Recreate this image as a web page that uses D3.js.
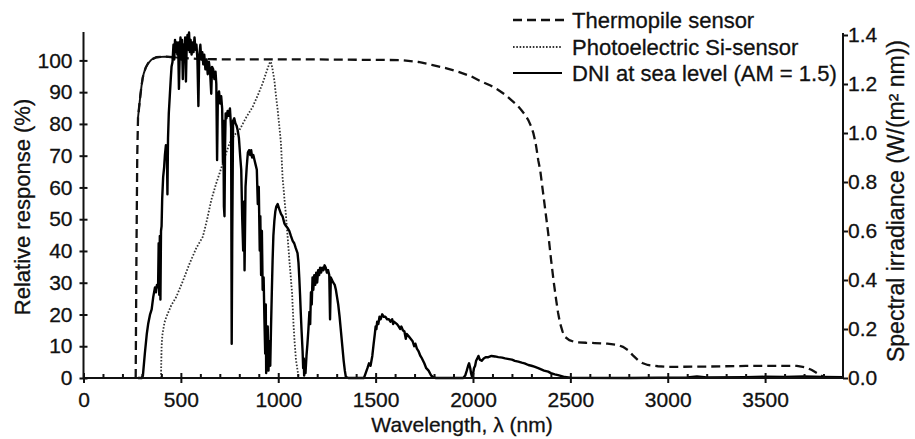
<!DOCTYPE html>
<html><head><meta charset="utf-8">
<script src="https://cdn.jsdelivr.net/npm/d3@7"></script>
<style>
html,body{margin:0;padding:0;background:#fff;}
svg text{font-family:"Liberation Sans",Arial,Helvetica,sans-serif;fill:#111;stroke:#111;stroke-width:0.3px;}
</style></head>
<body><svg id="c" width="915" height="439"></svg>
<script>
// ---- data ----
const xMajorTicks = [0,500,1000,1500,2000,2500,3000,3500];
const xMinorTicks = [100,200,300,400,600,700,800,900,1100,1200,1300,1400,1600,1700,1800,1900,2100,2200,2300,2400,2600,2700,2800,2900,3100,3200,3300,3400,3600,3700,3800];
const leftTicks = [0,10,20,30,40,50,60,70,80,90,100];
const rightTicks = [0,0.2,0.4,0.6,0.8,1.0,1.2,1.4];
const legendLabels = ["Thermopile sensor","Photoelectric Si-sensor","DNI at sea level (AM = 1.5)"];

// Thermopile sensor relative response: [wavelength nm, %]
const thermopile = [[268,0],[272,40],[276,70],[280,82],[286,85.5],[292,89],[298,92],[304,94.5],[310,96],[320,97.8],[332,99.1],[350,100.3],[375,101],[420,101.2],[460,101],[500,100.8],[600,100.4],[800,100.3],[1200,100.3],[1634,100.1],[1720,99.5],[1788,98.6],[1860,97.6],[1926,96.4],[1990,95],[2044,93.3],[2090,92.1],[2130,90.7],[2165,89.2],[2197,87.5],[2225,86],[2248,84.4],[2268,82.8],[2284,81.2],[2298,79.3],[2310,77.1],[2320,74.5],[2325,72.7],[2335,68.6],[2345,65.5],[2360,58.3],[2373,52],[2386,45.7],[2401,37.2],[2414,30.5],[2427,24.6],[2437,20.5],[2447,17.3],[2460,14.6],[2473,12.9],[2495,11.9],[2524,11.3],[2580,11.1],[2626,11.0],[2690,10.8],[2744,10.4],[2770,9.8],[2795,8.8],[2820,7.2],[2846,5.7],[2870,4.7],[2897,4.1],[2950,3.7],[2999,3.5],[3200,3.6],[3400,3.8],[3561,3.8],[3663,3.8],[3710,3.3],[3740,2.5],[3770,1.4],[3800,0.3],[3820,0]];

// Photoelectric Si-sensor relative response: [wavelength nm, %]
const siSensor = [[398,0],[399,4],[401,9.9],[405,13.5],[409,15.1],[416,17.5],[426,19.3],[450,22.8],[477,25.6],[510,30.5],[545,36.1],[580,41],[613,44.5],[635,50],[656,56],[680,61],[699,64.5],[725,69.5],[750,73.9],[775,76.5],[801,78.1],[835,82],[869,85.4],[895,89],[920,92.8],[940,96.5],[955,99.1],[962,99.6],[970,97.5],[980,93.8],[990,88],[997,84.4],[1006,79],[1014,73.9],[1022,63.4],[1031,57],[1040,50.8],[1050,43],[1057,37.2],[1064,32],[1071,26.7],[1079,16.2],[1085,10.5],[1091,5.7],[1099,2.5],[1105,0]];

// DNI at sea level (AM 1.5) spectral irradiance: [wavelength nm, W/(m2 nm)]
const dni = [[280,0],[300,0],[305,0.01],[315,0.1],[325,0.18],[332,0.22],[342,0.26],[350,0.28],[358,0.33],[367,0.37],[372,0.35],[377,0.38],[383,0.37],[386,0.55],[389,0.34],[392,0.58],[395,0.32],[398,0.6],[401,0.62],[404,0.73],[409,0.82],[414,0.86],[418,0.91],[423,0.95],[428,0.94],[431,0.75],[434,0.98],[438,1.08],[443,1.15],[448,1.22],[452,1.27],[457,1.29],[462,1.36],[466,1.30],[470,1.38],[474,1.33],[478,1.37],[482,1.32],[486,1.37],[490,1.18],[494,1.32],[498,1.39],[502,1.30],[506,1.38],[510,1.22],[514,1.36],[518,1.31],[522,1.39],[526,1.21],[530,1.36],[534,1.40],[538,1.34],[542,1.41],[546,1.33],[550,1.38],[555,1.32],[560,1.37],[565,1.33],[570,1.39],[575,1.34],[580,1.36],[585,1.30],[590,1.11],[594,1.31],[600,1.36],[605,1.30],[610,1.33],[615,1.28],[620,1.32],[626,1.26],[632,1.30],[638,1.24],[644,1.29],[650,1.25],[656,1.16],[660,1.27],[666,1.26],[672,1.22],[678,1.25],[682,1.20],[686,0.89],[690,1.15],[696,1.17],[702,1.12],[707,1.15],[712,1.10],[716,0.88],[718,1.05],[721,0.70],[724,0.66],[727,0.95],[730,1.08],[734,1.06],[740,1.09],[746,1.07],[752,1.10],[758,1.02],[761,0.14],[764,0.60],[768,1.05],[774,1.06],[780,1.04],[786,1.03],[792,1.01],[798,0.98],[805,0.90],[810,0.85],[815,0.65],[820,0.52],[824,0.72],[827,0.44],[832,0.78],[838,0.86],[844,0.92],[850,0.93],[856,0.91],[861,0.93],[866,0.90],[872,0.91],[878,0.89],[884,0.87],[890,0.85],[895,0.71],[900,0.78],[905,0.52],[908,0.66],[912,0.42],[916,0.60],[920,0.36],[925,0.41],[929,0.24],[933,0.10],[936,0.30],[938,0.02],[942,0.18],[946,0.21],[950,0.03],[955,0.15],[959,0.05],[963,0.21],[967,0.35],[971,0.48],[975,0.58],[980,0.64],[985,0.68],[990,0.70],[997,0.71],[1005,0.69],[1014,0.67],[1022,0.66],[1032,0.63],[1040,0.62],[1050,0.61],[1057,0.60],[1065,0.58],[1074,0.56],[1082,0.55],[1090,0.53],[1099,0.51],[1104,0.47],[1108,0.41],[1112,0.34],[1116,0.26],[1120,0.19],[1125,0.11],[1128,0.04],[1131,0.08],[1133,0.01],[1137,0.05],[1140,0.02],[1145,0.09],[1150,0.14],[1155,0.20],[1160,0.27],[1164,0.22],[1168,0.35],[1172,0.30],[1176,0.41],[1180,0.36],[1185,0.42],[1190,0.38],[1195,0.43],[1200,0.39],[1205,0.44],[1210,0.42],[1215,0.45],[1220,0.43],[1226,0.45],[1232,0.44],[1238,0.46],[1244,0.45],[1250,0.43],[1256,0.44],[1262,0.42],[1266,0.24],[1270,0.41],[1276,0.40],[1282,0.39],[1290,0.38],[1296,0.36],[1302,0.33],[1308,0.30],[1315,0.25],[1322,0.19],[1329,0.13],[1336,0.07],[1342,0.03],[1347,0.005],[1360,0],[1440,0],[1449,0.02],[1458,0.04],[1466,0.06],[1474,0.05],[1483,0.09],[1490,0.14],[1496,0.18],[1500,0.21],[1504,0.20],[1508,0.23],[1514,0.22],[1520,0.25],[1526,0.24],[1534,0.26],[1542,0.25],[1550,0.25],[1559,0.24],[1568,0.24],[1576,0.23],[1585,0.24],[1590,0.22],[1594,0.23],[1602,0.225],[1610,0.22],[1619,0.21],[1626,0.20],[1632,0.21],[1640,0.195],[1648,0.19],[1655,0.16],[1660,0.18],[1670,0.17],[1680,0.16],[1690,0.15],[1698,0.13],[1704,0.14],[1712,0.12],[1720,0.11],[1730,0.09],[1738,0.08],[1750,0.06],[1760,0.04],[1772,0.03],[1785,0.01],[1798,0.002],[1810,0],[1950,0],[1960,0.01],[1968,0.03],[1975,0.05],[1980,0.06],[1986,0.04],[1990,0.02],[1995,0.005],[1999,0.01],[2005,0.04],[2011,0.05],[2016,0.07],[2022,0.08],[2028,0.09],[2035,0.075],[2045,0.07],[2055,0.08],[2065,0.085],[2079,0.085],[2095,0.09],[2113,0.088],[2130,0.085],[2150,0.083],[2165,0.08],[2185,0.077],[2200,0.075],[2215,0.07],[2233,0.067],[2250,0.063],[2265,0.06],[2284,0.053],[2300,0.05],[2315,0.046],[2335,0.04],[2350,0.035],[2365,0.03],[2386,0.026],[2400,0.02],[2420,0.015],[2437,0.012],[2455,0.008],[2471,0.004],[2500,0.001],[2800,0],[3100,0.002],[3150,0.006],[3200,0.002],[3400,0.003],[3500,0.005],[3600,0.004],[3700,0.006],[3800,0.004],[3900,0.003]];

// ---- chart ----
const svg = d3.select("#c");
const x = d3.scaleLinear().domain([0,3900]).range([83.5,843]);
const yL = d3.scaleLinear().domain([0,108]).range([378,35]);
const yR = d3.scaleLinear().domain([0,1.4]).range([378,35]);
const FS = 21;

// curves
const lineL = d3.line().x(d=>x(d[0])).y(d=>yL(d[1]));
const lineR = d3.line().x(d=>x(d[0])).y(d=>yR(d[1]));

svg.append("path").datum(siSensor).attr("d",lineL)
  .attr("fill","none").attr("stroke","#333").attr("stroke-width",1.8).attr("stroke-dasharray","1.6,1.7");
svg.append("path").datum(thermopile).attr("d",lineL)
  .attr("fill","none").attr("stroke","#111").attr("stroke-width",2.3).attr("stroke-dasharray","9,5");
svg.append("path").datum(thermopile.filter(d=>d[0]>=280 && d[0]<=520)).attr("d",lineL)
  .attr("fill","none").attr("stroke","#111").attr("stroke-width",1.9);
svg.append("path").datum(dni).attr("d",lineR)
  .attr("fill","none").attr("stroke","#000").attr("stroke-width",2.4).attr("stroke-linejoin","round");

// axes
const gx = svg.append("g").attr("transform","translate(0,378)");
gx.call(d3.axisBottom(x).tickValues(xMinorTicks).tickSize(-4).tickFormat(""));
gx.select(".domain").remove();
const gx2 = svg.append("g").attr("transform","translate(0,378)")
  .call(d3.axisBottom(x).tickValues(xMajorTicks).tickSizeOuter(0).tickFormat(d3.format("d")));
gx2.selectAll(".tick line").attr("y1",-5).attr("y2",5);
gx2.selectAll(".tick text").attr("y",14);
[gx,gx2].forEach(g=>{g.selectAll("line,path").attr("stroke","#111").attr("stroke-width",2);});
gx2.select(".domain").attr("d",`M${x(0)},0H${x(3900)}`);

const gl = svg.append("g").attr("transform",`translate(${x(0)},0)`)
  .call(d3.axisLeft(yL).tickValues(leftTicks).tickSizeOuter(0).tickFormat(d3.format("d")));
gl.selectAll(".tick line").attr("x1",-4).attr("x2",4);
gl.selectAll(".tick text").attr("x",-11);
gl.select(".domain").attr("d",`M0,378V32`);

const gr = svg.append("g").attr("transform",`translate(${x(3900)},0)`)
  .call(d3.axisRight(yR).tickValues(rightTicks).tickSize(5).tickSizeOuter(0).tickFormat(d3.format(".1f")));
gr.selectAll(".tick text").attr("x",5);
gr.select(".domain").attr("d",`M0,378V33`);

[gl,gr].forEach(g=>{g.selectAll("line,path").attr("stroke","#111").attr("stroke-width",2);});
[gx2,gl,gr].forEach(g=>{g.selectAll("text").attr("font-size",FS).attr("fill","#111")
  .attr("font-family","'Liberation Sans',Arial,sans-serif");});

// axis titles
svg.append("text").attr("transform","translate(22,207) rotate(-90)")
  .attr("text-anchor","middle").attr("dominant-baseline","central").attr("font-size",22)
  .text("Relative response (%)");
svg.append("text").attr("transform","translate(896,201) rotate(-90)")
  .attr("text-anchor","middle").attr("dominant-baseline","central").attr("font-size",23)
  .text("Spectral irradiance (W/(m² nm))");
svg.append("text").attr("x",462).attr("y",432).attr("text-anchor","middle").attr("font-size",21)
  .text("Wavelength, λ (nm)");

// legend
const legY = [20,47,73];
const legStyles = [
  {stroke:"#111",w:2.3,dash:"9,5",x2:566},
  {stroke:"#333",w:1.8,dash:"1.6,1.7",x2:562},
  {stroke:"#000",w:2.2,dash:null,x2:562}
];
const lg = svg.append("g");
legendLabels.forEach((lab,i)=>{
  const s = legStyles[i];
  const ln = lg.append("line").attr("x1",513).attr("x2",s.x2).attr("y1",legY[i]).attr("y2",legY[i])
    .attr("stroke",s.stroke).attr("stroke-width",s.w);
  if(s.dash) ln.attr("stroke-dasharray",s.dash);
  lg.append("text").attr("x",572).attr("y",legY[i]).attr("dominant-baseline","central")
    .attr("font-size",22).text(lab);
});
</script>
</body></html>
